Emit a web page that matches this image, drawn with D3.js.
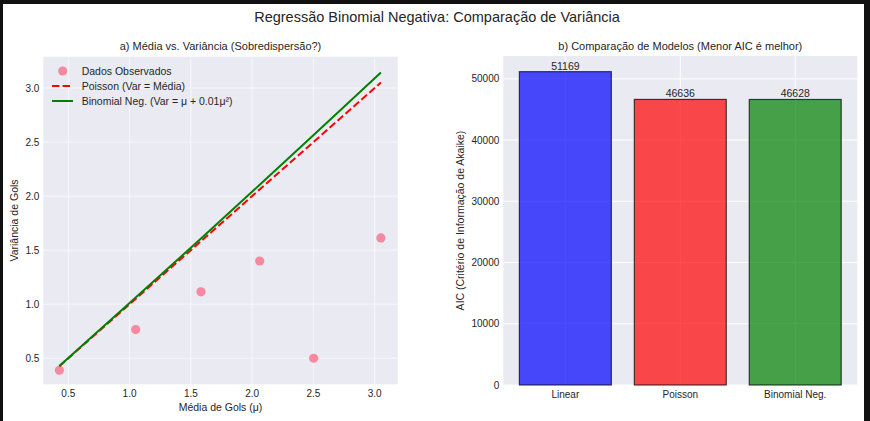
<!DOCTYPE html>
<html>
<head>
<meta charset="utf-8">
<script src="https://cdn.jsdelivr.net/npm/d3@7"></script>
<style>
  html, body { margin: 0; padding: 0; background: #111; }
  svg { display: block; }
  text { font-family: "Liberation Sans", Arial, sans-serif; fill: #262626; }
</style>
</head>
<body>
<svg id="chart" width="870" height="421"></svg>
<script>
// data
const obsMean = [0.427, 1.05, 1.583, 2.062, 2.502, 3.051]
const obsVar = [0.389, 0.765, 1.115, 1.40, 0.50, 1.613]
const poissonLine = [[0.427, 0.427], [3.051, 3.051]]
const nbMean = [0.427, 1.05, 1.583, 2.062, 2.502, 3.051]
const nbVar = [0.429, 1.061, 1.608, 2.105, 2.565, 3.144]
const xTicks = [0.5, 1.0, 1.5, 2.0, 2.5, 3.0]
const yTicks = [0.5, 1.0, 1.5, 2.0, 2.5, 3.0]

const models = ['Linear', 'Poisson', 'Binomial Neg.']
const aic = [51169, 46636, 46628]
const modelColors = ['#0000ff', '#ff0000', '#008000']
const aicTicks = [0, 10000, 20000, 30000, 40000, 50000]

const svg = d3.select('#chart')
const W = 870, H = 421

// page + dark frame
svg.append('rect').attr('x', 3).attr('y', 4).attr('width', 861).attr('height', H - 4).attr('fill', '#fff')

svg.append('text')
  .attr('x', 437).attr('y', 22)
  .attr('text-anchor', 'middle')
  .style('font-size', '14.5px')
  .text('Regressão Binomial Negativa: Comparação de Variância')

const bg = '#eaeaf2'

// ---------- a) mean vs variance ----------
const A = { left: 43.3, right: 397.7, top: 56.7, bottom: 384.3 }
const x = d3.scaleLinear().domain([0.296, 3.188]).range([A.left, A.right])
const y = d3.scaleLinear().domain([0.259, 3.29]).range([A.bottom, A.top])

const ga = svg.append('g')
ga.append('rect').attr('x', A.left).attr('y', A.top)
  .attr('width', A.right - A.left).attr('height', A.bottom - A.top).attr('fill', bg)

ga.append('g').selectAll('line.gx').data(xTicks).join('line')
  .attr('x1', d => x(d)).attr('x2', d => x(d)).attr('y1', A.top).attr('y2', A.bottom)
  .attr('stroke', '#fff').attr('stroke-opacity', 0.6)
ga.append('g').selectAll('line.gy').data(yTicks).join('line')
  .attr('y1', d => y(d)).attr('y2', d => y(d)).attr('x1', A.left).attr('x2', A.right)
  .attr('stroke', '#fff').attr('stroke-opacity', 0.6)

ga.selectAll('text.xt').data(xTicks).join('text')
  .attr('x', d => x(d)).attr('y', A.bottom + 13)
  .attr('text-anchor', 'middle').style('font-size', '10px')
  .text(d => d.toFixed(1))
ga.selectAll('text.yt').data(yTicks).join('text')
  .attr('x', A.left - 4).attr('y', d => y(d) + 3.5)
  .attr('text-anchor', 'end').style('font-size', '10px')
  .text(d => d.toFixed(1))

ga.append('text').attr('x', (A.left + A.right) / 2).attr('y', 411)
  .attr('text-anchor', 'middle').style('font-size', '10.5px').text('Média de Gols (μ)')
ga.append('text').attr('transform', `translate(18,${(A.top + A.bottom) / 2}) rotate(-90)`)
  .attr('text-anchor', 'middle').style('font-size', '10.5px').text('Variância de Gols')
ga.append('text').attr('x', (A.left + A.right) / 2).attr('y', 50)
  .attr('text-anchor', 'middle').style('font-size', '11px')
  .text('a) Média vs. Variância (Sobredispersão?)')

const pts = obsMean.map((m, i) => [m, obsVar[i]])
ga.selectAll('circle.obs').data(pts).join('circle')
  .attr('cx', d => x(d[0])).attr('cy', d => y(d[1])).attr('r', 4.6)
  .attr('fill', '#f77189').attr('fill-opacity', 0.8)

const line = d3.line().x(d => x(d[0])).y(d => y(d[1]))
ga.append('path').attr('d', line(poissonLine))
  .attr('fill', 'none').attr('stroke', '#ff0000').attr('stroke-width', 2)
  .attr('stroke-dasharray', '7.4,3.2')
ga.append('path').attr('d', line(nbMean.map((m, i) => [m, nbVar[i]])))
  .attr('fill', 'none').attr('stroke', '#008000').attr('stroke-width', 2)

// legend
const lg = ga.append('g')
lg.append('circle').attr('cx', 62.7).attr('cy', 71).attr('r', 4.6)
  .attr('fill', '#f77189').attr('fill-opacity', 0.8)
lg.append('line').attr('x1', 52).attr('x2', 73).attr('y1', 86).attr('y2', 86)
  .attr('stroke', '#ff0000').attr('stroke-width', 2).attr('stroke-dasharray', '7.4,3.2')
lg.append('line').attr('x1', 52).attr('x2', 73).attr('y1', 101).attr('y2', 101)
  .attr('stroke', '#008000').attr('stroke-width', 2)
const legendLabels = ['Dados Observados', 'Poisson (Var = Média)', 'Binomial Neg. (Var = μ + 0.01μ²)']
lg.selectAll('text').data(legendLabels).join('text')
  .attr('x', 81.7).attr('y', (d, i) => 74.5 + i * 15)
  .style('font-size', '10.5px').text(d => d)

// ---------- b) AIC comparison ----------
const B = { left: 503.3, right: 857.3, top: 56, bottom: 385 }
const xb = d3.scaleBand().domain(models).range([B.left, B.right]).paddingInner(0.2).paddingOuter(0.14)
const yb = d3.scaleLinear().domain([0, 53727]).range([B.bottom, B.top])

const gb = svg.append('g')
gb.append('rect').attr('x', B.left).attr('y', B.top)
  .attr('width', B.right - B.left).attr('height', B.bottom - B.top).attr('fill', bg)
gb.selectAll('line.gx').data(models).join('line')
  .attr('x1', d => xb(d) + xb.bandwidth() / 2).attr('x2', d => xb(d) + xb.bandwidth() / 2)
  .attr('y1', B.top).attr('y2', B.bottom).attr('stroke', '#fff')
gb.selectAll('line.gy').data(aicTicks).join('line')
  .attr('y1', d => yb(d)).attr('y2', d => yb(d)).attr('x1', B.left).attr('x2', B.right)
  .attr('stroke', '#fff')

gb.selectAll('rect.bar').data(models).join('rect')
  .attr('x', d => xb(d)).attr('width', xb.bandwidth())
  .attr('y', (d, i) => yb(aic[i])).attr('height', (d, i) => yb(0) - yb(aic[i]))
  .attr('fill', (d, i) => modelColors[i]).attr('fill-opacity', 0.7)
  .attr('stroke', '#000').attr('stroke-opacity', 0.7).attr('stroke-width', 1.2)

gb.selectAll('text.val').data(models).join('text')
  .attr('x', d => xb(d) + xb.bandwidth() / 2).attr('y', (d, i) => yb(aic[i]) - 2)
  .attr('text-anchor', 'middle').style('font-size', '10.5px')
  .text((d, i) => aic[i])

gb.selectAll('text.xt').data(models).join('text')
  .attr('x', d => xb(d) + xb.bandwidth() / 2).attr('y', B.bottom + 13)
  .attr('text-anchor', 'middle').style('font-size', '10px').text(d => d)
gb.selectAll('text.yt').data(aicTicks).join('text')
  .attr('x', B.left - 4).attr('y', d => yb(d) + 3.5)
  .attr('text-anchor', 'end').style('font-size', '10px').text(d => d)

gb.append('text').attr('transform', `translate(464,${(B.top + B.bottom) / 2}) rotate(-90)`)
  .attr('text-anchor', 'middle').style('font-size', '10.5px').text('AIC (Critério de Informação de Akaike)')
gb.append('text').attr('x', (B.left + B.right) / 2).attr('y', 50)
  .attr('text-anchor', 'middle').style('font-size', '11px')
  .text('b) Comparação de Modelos (Menor AIC é melhor)')
</script>
</body>
</html>
